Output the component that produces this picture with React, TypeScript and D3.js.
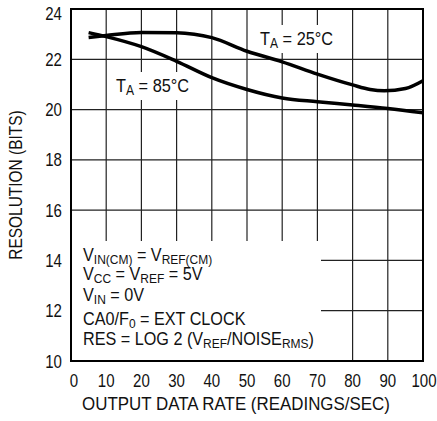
import React from "react";
import * as d3 from "d3";

const xTicks = [0, 10, 20, 30, 40, 50, 60, 70, 80, 90, 100];
const yTicks = [10, 12, 14, 16, 18, 20, 22, 24];

const rate25 = [5, 10, 20, 30, 35, 40, 50, 60, 70, 80, 85, 89, 95, 100];
const res25 = [22.87, 22.95, 23.07, 23.06, 23.0, 22.86, 22.32, 21.9, 21.41, 20.98, 20.8, 20.75, 20.84, 21.15];

const rate85 = [5, 10, 20, 30, 40, 50, 60, 70, 80, 90, 100];
const res85 = [23.06, 22.9, 22.5, 21.92, 21.27, 20.8, 20.46, 20.31, 20.18, 20.04, 19.87];

const notes: { t: string; sub?: boolean }[][] = [
  [{ t: "V" }, { t: "IN(CM)", sub: true }, { t: " = V" }, { t: "REF(CM)", sub: true }],
  [{ t: "V" }, { t: "CC", sub: true }, { t: " = V" }, { t: "REF", sub: true }, { t: " = 5V" }],
  [{ t: "V" }, { t: "IN", sub: true }, { t: " = 0V" }],
  [{ t: "CA0/F" }, { t: "0", sub: true }, { t: " = EXT CLOCK" }],
  [{ t: "RES = LOG 2 (V" }, { t: "REF", sub: true }, { t: "/NOISE" }, { t: "RMS", sub: true }, { t: ")" }],
];

const FONT = "'Liberation Sans', Arial, sans-serif";
const SX = 0.86;

function Rich({ parts, x, y, size, sx }: { parts: { t: string; sub?: boolean }[]; x: number; y: number; size: number; sx: number }) {
  let down = false;
  return (
    <text transform={`translate(${x},${y}) scale(${sx},1)`} fontSize={size} fontFamily={FONT} fill="#111">
      {parts.map((p, i) => {
        let dy = 0;
        if (p.sub && !down) { dy = 3; down = true; }
        else if (!p.sub && down) { dy = -3; down = false; }
        return (
          <tspan key={i} dy={dy} fontSize={p.sub ? size * 0.74 : size}>{p.t}</tspan>
        );
      })}
    </text>
  );
}

function Txt({ x, y, size, anchor, rotate, sx, children }: { x: number; y: number; size: number; anchor?: string; rotate?: number; sx?: number; children: React.ReactNode }) {
  return (
    <text
      transform={`translate(${x},${y})${rotate ? ` rotate(${rotate})` : ""} scale(${sx ?? SX},1)`}
      textAnchor={anchor || "start"}
      fontSize={size}
      fontFamily={FONT}
      fill="#111"
    >
      {children}
    </text>
  );
}

export default function App() {
  const W = 437, H = 421;
  const m = { l: 71, r: 423, t: 9, b: 361 };
  const x = d3.scaleLinear().domain([0, 100]).range([m.l, m.r]);
  const y = d3.scaleLinear().domain([10, 24]).range([m.b, m.t]);
  const line = d3.line<[number, number]>().x(d => x(d[0])).y(d => y(d[1])).curve(d3.curveMonotoneX);
  const d25 = line(rate25.map((r, i) => [r, res25[i]] as [number, number])) || "";
  const d85 = line(rate85.map((r, i) => [r, res85[i]] as [number, number])) || "";

  return (
    <svg width={W} height={H} style={{ position: "absolute", left: 0, top: 0, background: "#fff" }}>
      <rect x={0} y={0} width={W} height={H} fill="#fff" />
      {xTicks.slice(1, -1).map(v => (
        <line key={"vx" + v} x1={x(v)} x2={x(v)} y1={m.t} y2={m.b} stroke="#222" strokeWidth={1.2} />
      ))}
      {yTicks.slice(1, -1).map(v => (
        <line key={"hy" + v} x1={m.l} x2={m.r} y1={y(v)} y2={y(v)} stroke="#222" strokeWidth={1.2} />
      ))}
      {/* white panels behind labels */}
      <rect x={m.l + 1} y={241} width={249} height={m.b - 242} fill="#fff" />
      <rect x={258} y={25} width={78} height={28} fill="#fff" />
      <rect x={113} y={72} width={82} height={28} fill="#fff" />

      <path d={d85} fill="none" stroke="#000" strokeWidth={3.5} strokeLinecap="butt" />
      <path d={d25} fill="none" stroke="#000" strokeWidth={3.5} strokeLinecap="butt" />

      <rect x={m.l} y={m.t} width={m.r - m.l} height={m.b - m.t} fill="none" stroke="#000" strokeWidth={2} />

      {xTicks.map(v => (
        <Txt key={"xt" + v} x={x(v) + (v === 0 ? 3 : v === 100 ? 1 : 0)} y={387} size={17.5} anchor="middle">{v}</Txt>
      ))}
      {yTicks.map(v => (
        <Txt key={"yt" + v} x={62} y={y(v) + 6.5 + (v === 24 ? 4 : 0)} size={17.5} anchor="end">{v}</Txt>
      ))}
      <Txt x={236} y={410} size={18} anchor="middle" sx={0.94}>OUTPUT DATA RATE (READINGS/SEC)</Txt>
      <Txt x={22} y={(m.t + m.b) / 2} size={18} anchor="middle" rotate={-90}>RESOLUTION (BITS)</Txt>

      <Rich parts={[{ t: "T" }, { t: "A", sub: true }, { t: " = 25°C" }]} x={260} y={45} size={19} sx={SX} />
      <Rich parts={[{ t: "T" }, { t: "A", sub: true }, { t: " = 85°C" }]} x={116} y={92} size={19} sx={SX} />

      {notes.map((parts, i) => (
        <Rich key={"n" + i} parts={parts} x={83} y={[261, 280, 301, 325, 345][i]} size={18} sx={0.9} />
      ))}
    </svg>
  );
}
